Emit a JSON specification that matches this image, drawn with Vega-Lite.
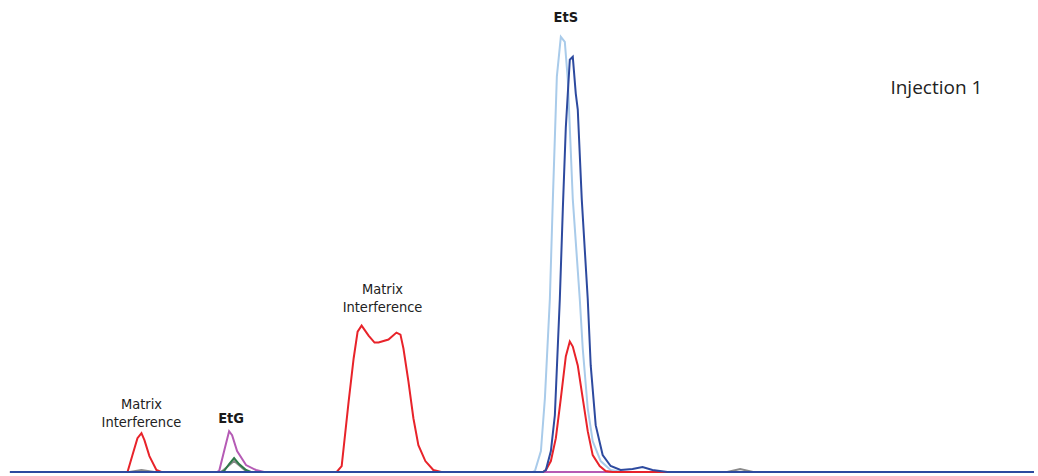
{
  "$schema": "https://vega.github.io/schema/vega-lite/v6.json",
  "width": 1038,
  "height": 476,
  "autosize": {"type": "fit", "contains": "padding"},
  "padding": 0,
  "background": "white",
  "config": {"view": {"stroke": null}},
  "datasets": {
    "traces": [
      {"series": "1 gray", "t": 10, "v": 0}, {"series": "1 gray", "t": 130, "v": 0}, {"series": "1 gray", "t": 142, "v": 2}, {"series": "1 gray", "t": 155, "v": 0}, {"series": "1 gray", "t": 222, "v": 0}, {"series": "1 gray", "t": 235, "v": 11}, {"series": "1 gray", "t": 248, "v": 0}, {"series": "1 gray", "t": 730, "v": 0}, {"series": "1 gray", "t": 743, "v": 3}, {"series": "1 gray", "t": 756, "v": 0}, {"series": "1 gray", "t": 1038, "v": 0},
      {"series": "2 green", "t": 10, "v": 0}, {"series": "2 green", "t": 222, "v": 0}, {"series": "2 green", "t": 225, "v": 1}, {"series": "2 green", "t": 230, "v": 8}, {"series": "2 green", "t": 235, "v": 14}, {"series": "2 green", "t": 240, "v": 8}, {"series": "2 green", "t": 247, "v": 2}, {"series": "2 green", "t": 252, "v": 0}, {"series": "2 green", "t": 1038, "v": 0},
      {"series": "3 magenta", "t": 10, "v": 0}, {"series": "3 magenta", "t": 218, "v": 0}, {"series": "3 magenta", "t": 220, "v": 1}, {"series": "3 magenta", "t": 225, "v": 21}, {"series": "3 magenta", "t": 230, "v": 41}, {"series": "3 magenta", "t": 233, "v": 37}, {"series": "3 magenta", "t": 238, "v": 21}, {"series": "3 magenta", "t": 247, "v": 7}, {"series": "3 magenta", "t": 257, "v": 2}, {"series": "3 magenta", "t": 265, "v": 0}, {"series": "3 magenta", "t": 1038, "v": 0},
      {"series": "4 light blue", "t": 10, "v": 0}, {"series": "4 light blue", "t": 535, "v": 0}, {"series": "4 light blue", "t": 537, "v": 1}, {"series": "4 light blue", "t": 543, "v": 21}, {"series": "4 light blue", "t": 547, "v": 74}, {"series": "4 light blue", "t": 552, "v": 174}, {"series": "4 light blue", "t": 555, "v": 274}, {"series": "4 light blue", "t": 559, "v": 397}, {"series": "4 light blue", "t": 563, "v": 437}, {"series": "4 light blue", "t": 567, "v": 432}, {"series": "4 light blue", "t": 570, "v": 394}, {"series": "4 light blue", "t": 575, "v": 274}, {"series": "4 light blue", "t": 582, "v": 174}, {"series": "4 light blue", "t": 585, "v": 124}, {"series": "4 light blue", "t": 590, "v": 64}, {"series": "4 light blue", "t": 595, "v": 31}, {"series": "4 light blue", "t": 603, "v": 11}, {"series": "4 light blue", "t": 613, "v": 2}, {"series": "4 light blue", "t": 625, "v": 0}, {"series": "4 light blue", "t": 1038, "v": 0},
      {"series": "5 red", "t": 10, "v": 0}, {"series": "5 red", "t": 128, "v": 0}, {"series": "5 red", "t": 133, "v": 17}, {"series": "5 red", "t": 138, "v": 34}, {"series": "5 red", "t": 142, "v": 39}, {"series": "5 red", "t": 145, "v": 32}, {"series": "5 red", "t": 150, "v": 16}, {"series": "5 red", "t": 157, "v": 2}, {"series": "5 red", "t": 162, "v": 0}, {"series": "5 red", "t": 338, "v": 0}, {"series": "5 red", "t": 343, "v": 6}, {"series": "5 red", "t": 350, "v": 71}, {"series": "5 red", "t": 355, "v": 114}, {"series": "5 red", "t": 359, "v": 141}, {"series": "5 red", "t": 363, "v": 147}, {"series": "5 red", "t": 370, "v": 137}, {"series": "5 red", "t": 376, "v": 130}, {"series": "5 red", "t": 380, "v": 130}, {"series": "5 red", "t": 390, "v": 133}, {"series": "5 red", "t": 398, "v": 140}, {"series": "5 red", "t": 402, "v": 138}, {"series": "5 red", "t": 405, "v": 124}, {"series": "5 red", "t": 410, "v": 91}, {"series": "5 red", "t": 415, "v": 54}, {"series": "5 red", "t": 420, "v": 27}, {"series": "5 red", "t": 427, "v": 11}, {"series": "5 red", "t": 435, "v": 2}, {"series": "5 red", "t": 443, "v": 0}, {"series": "5 red", "t": 545, "v": 0}, {"series": "5 red", "t": 548, "v": 2}, {"series": "5 red", "t": 553, "v": 11}, {"series": "5 red", "t": 558, "v": 34}, {"series": "5 red", "t": 563, "v": 74}, {"series": "5 red", "t": 568, "v": 116}, {"series": "5 red", "t": 572, "v": 131}, {"series": "5 red", "t": 575, "v": 126}, {"series": "5 red", "t": 580, "v": 107}, {"series": "5 red", "t": 585, "v": 74}, {"series": "5 red", "t": 590, "v": 41}, {"series": "5 red", "t": 595, "v": 17}, {"series": "5 red", "t": 602, "v": 6}, {"series": "5 red", "t": 608, "v": 1}, {"series": "5 red", "t": 615, "v": 0}, {"series": "5 red", "t": 1038, "v": 0},
      {"series": "6 dark blue", "t": 10, "v": 0}, {"series": "6 dark blue", "t": 545, "v": 0}, {"series": "6 dark blue", "t": 548, "v": 2}, {"series": "6 dark blue", "t": 553, "v": 21}, {"series": "6 dark blue", "t": 557, "v": 57}, {"series": "6 dark blue", "t": 562, "v": 174}, {"series": "6 dark blue", "t": 565, "v": 264}, {"series": "6 dark blue", "t": 568, "v": 346}, {"series": "6 dark blue", "t": 572, "v": 414}, {"series": "6 dark blue", "t": 575, "v": 417}, {"series": "6 dark blue", "t": 578, "v": 380}, {"series": "6 dark blue", "t": 580, "v": 364}, {"series": "6 dark blue", "t": 584, "v": 274}, {"series": "6 dark blue", "t": 590, "v": 174}, {"series": "6 dark blue", "t": 593, "v": 107}, {"series": "6 dark blue", "t": 598, "v": 47}, {"series": "6 dark blue", "t": 605, "v": 17}, {"series": "6 dark blue", "t": 613, "v": 6}, {"series": "6 dark blue", "t": 623, "v": 2}, {"series": "6 dark blue", "t": 635, "v": 3}, {"series": "6 dark blue", "t": 645, "v": 5}, {"series": "6 dark blue", "t": 655, "v": 2}, {"series": "6 dark blue", "t": 670, "v": 0}, {"series": "6 dark blue", "t": 1038, "v": 0}
    ],
    "labels": [
      {"t": 142, "v": 67, "label": "Matrix\nInterference", "kind": "plain"},
      {"t": 384, "v": 183, "label": "Matrix\nInterference", "kind": "plain"},
      {"t": 232, "v": 53, "label": "EtG", "kind": "bold"},
      {"t": 568, "v": 456, "label": "EtS", "kind": "bold"}
    ],
    "note": [
      {"t": 940, "v": 386, "label": "Injection 1"}
    ]
  },
  "layer": [
    {
      "data": {"name": "traces"},
      "mark": {"type": "line", "strokeWidth": 2, "interpolate": "linear"},
      "encoding": {
        "x": {"field": "t", "type": "quantitative", "scale": {"domain": [0, 1038], "nice": false, "zero": false}, "axis": null},
        "y": {"field": "v", "type": "quantitative", "scale": {"domain": [-2, 474], "nice": false, "zero": false}, "axis": null},
        "color": {
          "field": "series",
          "type": "nominal",
          "scale": {
            "domain": ["1 gray", "2 green", "3 magenta", "4 light blue", "5 red", "6 dark blue"],
            "range": ["#8a8a8a", "#2f7a4a", "#b55bb5", "#a9cbea", "#e8232a", "#2d4a9f"]
          },
          "legend": null
        },
        "order": {"field": "t", "type": "quantitative"}
      }
    },
    {
      "data": {"name": "labels"},
      "transform": [{"filter": "datum.kind == 'plain'"}],
      "mark": {"type": "text", "font": "Liberation Sans Narrow, DejaVu Sans Condensed, Roboto", "fontSize": 14.5, "lineBreak": "\n", "lineHeight": 18, "align": "center", "baseline": "middle", "color": "#222222"},
      "encoding": {
        "x": {"field": "t", "type": "quantitative"},
        "y": {"field": "v", "type": "quantitative"},
        "text": {"field": "label"}
      }
    },
    {
      "data": {"name": "labels"},
      "transform": [{"filter": "datum.kind == 'bold'"}],
      "mark": {"type": "text", "font": "Liberation Sans Narrow, DejaVu Sans Condensed, Roboto", "fontSize": 14.5, "fontWeight": "bold", "align": "center", "baseline": "middle", "color": "#1a1a1a"},
      "encoding": {
        "x": {"field": "t", "type": "quantitative"},
        "y": {"field": "v", "type": "quantitative"},
        "text": {"field": "label"}
      }
    },
    {
      "data": {"name": "note"},
      "mark": {"type": "text", "font": "Open Sans", "fontSize": 19, "align": "center", "baseline": "middle", "color": "#222222"},
      "encoding": {
        "x": {"field": "t", "type": "quantitative"},
        "y": {"field": "v", "type": "quantitative"},
        "text": {"field": "label"}
      }
    }
  ]
}
